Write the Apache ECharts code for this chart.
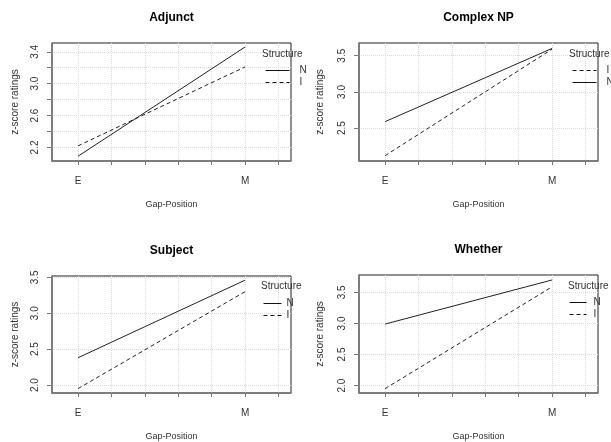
<!DOCTYPE html>
<html><head><meta charset="utf-8">
<script src="https://cdn.jsdelivr.net/npm/echarts@6/dist/echarts.min.js"></script>
<style>html,body{margin:0;padding:0;background:#fff}#c{width:611px;height:442px}</style>
</head><body><div id="c"></div>
<script>
// ---- data ----
var gapPositions = ['E', 'M'];
var panelTitles = ['Adjunct', 'Complex NP', 'Subject', 'Whether'];
var adjunctN = [2.09, 3.46], adjunctI = [2.22, 3.21];
var complexI = [2.12, 3.59], complexN = [2.59, 3.60];
var subjectN = [2.38, 3.46], subjectI = [1.95, 3.30];
var whetherN = [2.99, 3.70], whetherI = [1.95, 3.59];
var xTickValues = [1, 1.2, 1.4, 1.6, 1.8, 2.0, 2.2];
var adjunctYTicks = [2.2, 2.4, 2.6, 2.8, 3.0, 3.2, 3.4], adjunctYLabels = [2.2, 2.6, 3.0, 3.4];
var complexYTicks = [2.5, 3.0, 3.5];
var subjectYTicks = [2.0, 2.5, 3.0, 3.5];
var whetherYTicks = [2.0, 2.5, 3.0, 3.5];
var yRanges = [[2.03, 3.51], [2.047, 3.675], [1.889, 3.518], [1.88, 3.78]];
var xRange = [0.844, 2.275];

// ---- layout ----
var F = 'Liberation Sans, Arial, sans-serif';
var grids = [
  {left: 52, top: 43, width: 239, height: 118, nameGap: 32},
  {left: 359, top: 43, width: 239, height: 118, nameGap: 34},
  {left: 52, top: 276, width: 239, height: 117, nameGap: 32},
  {left: 359, top: 275, width: 239, height: 118, nameGap: 34}
];
var panelSeries = [
  [['N', adjunctN, 'solid'], ['I', adjunctI, 'dashed']],
  [['I', complexI, 'dashed'], ['N', complexN, 'solid']],
  [['N', subjectN, 'solid'], ['I', subjectI, 'dashed']],
  [['N', whetherN, 'solid'], ['I', whetherI, 'dashed']]
];
var yTicks = [adjunctYTicks, complexYTicks, subjectYTicks, whetherYTicks];
var yLabels = [adjunctYLabels, complexYTicks, subjectYTicks, whetherYTicks];
var legendPos = [
  {title: [262, 49], left: 265, top: 65.5, w: 24, pad: 5},
  {title: [569, 49], left: 572, top: 65.5, w: 24, pad: 5},
  {title: [261, 281], left: 263, top: 298.5, w: 18, pad: 0},
  {title: [568, 281], left: 569, top: 297.5, w: 17, pad: 2}
];

var option = {animation: false, backgroundColor: '#fff', grid: [], xAxis: [], yAxis: [], series: [], title: [], legend: []};
grids.forEach(function (g, i) {
  option.grid.push({left: g.left, top: g.top, width: g.width, height: g.height, show: true,
    borderColor: '#222', borderWidth: 1, containLabel: false});
  option.xAxis.push({type: 'value', gridIndex: i, min: xRange[0], max: xRange[1],
    name: 'Gap-Position', nameLocation: 'middle', nameGap: 39,
    nameTextStyle: {fontFamily: F, fontSize: 9, color: '#333'},
    axisLine: {show: true, onZero: false, lineStyle: {color: '#777', width: 1.5}},
    axisTick: {show: true, length: 4, customValues: xTickValues, lineStyle: {color: '#777'}},
    axisLabel: {customValues: [1, 2], margin: 15, fontFamily: F, fontSize: 10, color: '#333',
      formatter: function (v) { return gapPositions[Math.round(v) - 1] || ''; }},
    splitLine: {show: true, lineStyle: {color: '#dadada', type: 'dotted', width: 1}}
  });
  option.yAxis.push({type: 'value', gridIndex: i, min: yRanges[i][0], max: yRanges[i][1],
    name: 'z-score ratings', nameLocation: 'middle', nameGap: g.nameGap,
    nameTextStyle: {fontFamily: F, fontSize: 10, color: '#333'},
    axisLine: {show: true, lineStyle: {color: '#777', width: 1.5}},
    axisTick: {show: true, length: 5, customValues: yTicks[i], lineStyle: {color: '#777'}},
    axisLabel: {customValues: yLabels[i], rotate: 90, margin: 12, fontFamily: F, fontSize: 10, color: '#333',
      formatter: function (v) { return v.toFixed(1); }},
    splitLine: {show: true, lineStyle: {color: '#dadada', type: 'dotted', width: 1}}
  });
  option.title.push({text: panelTitles[i], left: g.left + g.width / 2, top: g.top - 31, padding: 0,
    textAlign: 'center', textStyle: {fontFamily: F, fontSize: 12, fontWeight: 'bold', color: '#000'}});
  var lp = legendPos[i];
  option.title.push({text: 'Structure', left: lp.title[0], top: lp.title[1], padding: 0,
    textStyle: {fontFamily: F, fontSize: 10, fontWeight: 'normal', color: '#333'}});
  var names = [];
  panelSeries[i].forEach(function (s) {
    names.push(s[0]);
    option.series.push({type: 'line', name: s[0], xAxisIndex: i, yAxisIndex: i,
      data: s[1].map(function (v, k) { return [k + 1, v]; }),
      symbol: 'none', showSymbol: false,
      lineStyle: {color: '#222', width: 1, type: s[2] === 'dashed' ? [4, 3] : 'solid'},
      itemStyle: {color: '#222'}});
  });
  option.legend.push({orient: 'vertical', left: lp.left, top: lp.top, padding: 0, data: names,
    itemWidth: lp.w, itemHeight: 10, itemGap: 2, selectedMode: false,
    itemStyle: {opacity: 0},
    lineStyle: {width: 1, color: '#111'},
    textStyle: {fontFamily: F, fontSize: 10, color: '#333', padding: [0, 0, 0, lp.pad]}});
});
var chart = echarts.init(document.getElementById('c'), null, {renderer: 'canvas'});
chart.setOption(option);
</script></body></html>
